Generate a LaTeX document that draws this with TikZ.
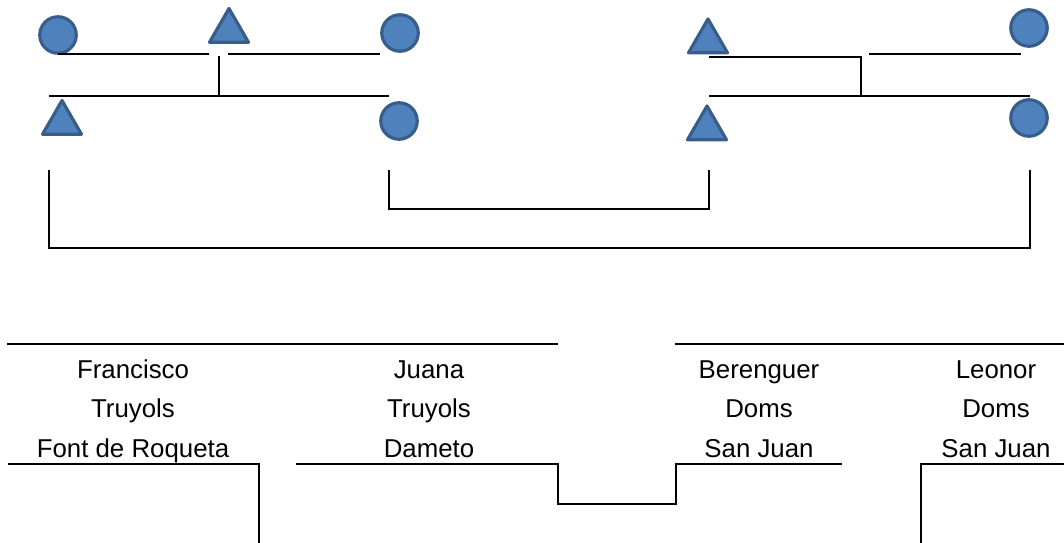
\documentclass[tikz,border=0pt]{standalone}
\usepackage{fontspec}
\setmainfont{Liberation Sans}
\usetikzlibrary{shapes.geometric}
\definecolor{symfill}{HTML}{4F81BD}
\definecolor{symdraw}{HTML}{385D8A}
\tikzset{
  male/.style={regular polygon, regular polygon sides=3, minimum size=.9cm, inner sep=0,
    fill=symfill, draw=symdraw, line width=1.8pt, line join=round},
  female/.style={circle, minimum size=.73cm, inner sep=0, fill=symfill, draw=symdraw, line width=1.8pt},
  kin/.style={line width=1.2pt},
  person/.style={font=\fontsize{14.7}{18}\selectfont, anchor=base, inner sep=0}
}
\begin{document}
\begin{tikzpicture}[x=.02cm, y=-.02cm]
\useasboundingbox (0,0) rectangle (1064,543);
% symbols
\foreach \n/\x/\y in {m1/229/31, m2/62/123, m3/708/41.5, m4/707/128.5}
  \node[male] (\n) at (\x,\y) {};
\foreach \n/\x/\y in {f1/58/35, f2/400/33, f3/399/121, f4/1029/28, f5/1029/118}
  \node[female] (\n) at (\x,\y) {};
% left couple lines
\draw[kin] (58,54)--(209,54) (228,54)--(380,54) (219,56)--(219,96) (49,96)--(389,96);
% right couple lines
\draw[kin] (709,57)--(861,57)--(861,96) (869,54)--(1021,54) (709,96)--(1030,96);
% brackets
\draw[kin] (389,170)--(389,209)--(709,209)--(709,170);
\draw[kin] (49,170)--(49,248)--(1030,248)--(1030,170);
% lower part
\draw[kin] (7,344)--(558,344) (675,344)--(1064,344);
\draw[kin] (8,464)--(259,464)--(259,543);
\draw[kin] (296,464)--(558,464)--(558,504)--(676,504)--(676,464)--(842,464);
\draw[kin] (921,543)--(921,464)--(1064,464);
\foreach \x/\a/\b/\c [count=\i] in {133/Francisco/Truyols/Font de Roqueta,
    429/Juana/Truyols/Dameto, 759/Berenguer/Doms/San Juan, 996/Leonor/Doms/San Juan}
{
  \node[person] (p\i a) at (\x,378.5) {\a};
  \node[person] (p\i b) at (\x,418) {\b};
  \node[person] (p\i c) at (\x,457.5) {\c};
}
\end{tikzpicture}
\end{document}
